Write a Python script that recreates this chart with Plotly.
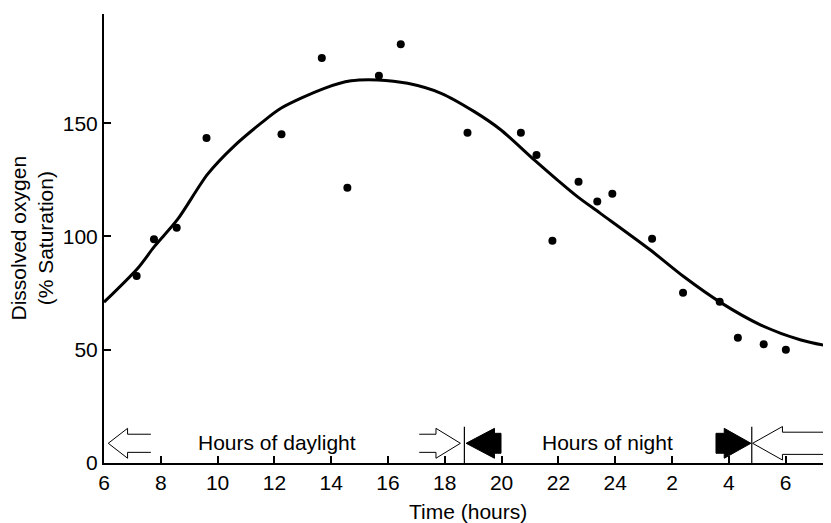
import plotly.graph_objects as go

# measured dissolved oxygen (% saturation) vs time of day (hours, continuous past midnight)
obs_hours = [7.15, 7.76, 8.56, 9.61, 12.25, 13.67, 14.57, 15.68, 16.45, 18.80, 20.68,
             21.23, 21.79, 22.71, 23.37, 23.90, 25.30, 26.39, 27.68, 28.32, 29.23, 30.01]
obs_oxygen = [82.6, 98.8, 103.9, 143.5, 145.1, 178.8, 121.5, 170.9, 184.9, 145.8, 145.8,
              136.0, 98.1, 124.1, 115.4, 118.9, 99.0, 75.2, 71.2, 55.3, 52.4, 50.0]

# fitted curve
fit_hours = [6.0, 7.19, 7.77, 8.59, 9.65, 10.59, 11.53, 12.23, 13.76, 14.70, 15.64,
             16.69, 17.87, 19.04, 19.98, 21.15, 21.97, 22.67, 23.48, 25.24, 26.41,
             27.72, 29.13, 30.54, 31.63]
fit_oxygen = [71.0, 86.0, 95.5, 107.5, 127.5, 140.0, 150.0, 156.6, 165.4, 168.7, 169.1,
              167.6, 163.2, 155.1, 147.0, 133.8, 124.9, 117.6, 110.2, 94.0, 82.3,
              70.8, 60.9, 54.3, 51.3]

tick_hours = list(range(6, 31, 2))
tick_labels = [str(h if h <= 24 else h - 24) for h in tick_hours]
y_ticks = [0, 50, 100, 150]

sunset = 18.69
sunrise = 28.81

x_min, x_max = 6, 31.6
y_max = 198.2
band_y = 8.7   # height of the day/night arrow band
font = dict(family="Arial, Liberation Sans, sans-serif", size=21, color="black")

fig = go.Figure()
fig.add_trace(go.Scatter(x=fit_hours, y=fit_oxygen, mode="lines",
                         line=dict(color="black", width=3, shape="spline", smoothing=0.8),
                         hoverinfo="skip"))
fig.add_trace(go.Scatter(x=obs_hours, y=obs_oxygen, mode="markers",
                         marker=dict(color="black", size=8)))


def arrow(tip, direction, head_len, tail_len, head_h, shaft_h, filled):
    notch = tip - direction * head_len
    tail = tip - direction * (head_len + tail_len)
    pts = [(tail, band_y + shaft_h), (notch, band_y + shaft_h), (notch, band_y + head_h),
           (tip, band_y), (notch, band_y - head_h), (notch, band_y - shaft_h),
           (tail, band_y - shaft_h)]
    path = "M " + " L ".join(f"{x},{y}" for x, y in pts)
    if filled:
        path += " Z"
    fig.add_shape(type="path", path=path, xref="x", yref="y",
                  line=dict(color="black", width=1),
                  fillcolor="black" if filled else "rgba(0,0,0,0)")


arrow(x_min + 0.15, -1, 0.68, 0.82, 6.6, 4.0, False)
arrow(sunset - 0.14, 1, 0.86, 0.59, 6.6, 4.0, False)
arrow(sunset + 0.06, -1, 1.0, 0.23, 6.6, 4.4, True)
arrow(sunrise - 0.03, 1, 0.94, 0.29, 6.6, 4.4, True)
arrow(sunrise + 0.03, -1, 1.05, 3.5, 7.4, 4.9, False)

for h in (sunset, sunrise):
    fig.add_shape(type="line", x0=h, x1=h, y0=0, y1=16, xref="x", yref="y",
                  line=dict(color="black", width=1.2))

fig.add_annotation(x=12.1, y=9.0, text="Hours of daylight", showarrow=False, font=font)
fig.add_annotation(x=23.73, y=9.0, text="Hours of night", showarrow=False, font=font)
fig.add_annotation(x=0.5, y=0, xref="paper", yref="paper", yanchor="middle", yshift=-48,
                   text="Time (hours)", showarrow=False, font=font)
fig.add_annotation(x=0, y=0.5, xref="paper", yref="paper", xanchor="center", xshift=-73,
                   text="Dissolved oxygen<br>(% Saturation)", textangle=-90,
                   showarrow=False, font=font)

fig.update_xaxes(range=[x_min, x_max], tickvals=tick_hours, ticktext=tick_labels,
                 showgrid=False, zeroline=False, showline=True, linecolor="black",
                 linewidth=2, ticks="inside", ticklen=7, tickwidth=1.5, tickcolor="black",
                 tickfont=font)
fig.update_yaxes(range=[0, y_max], tickvals=y_ticks + [198],
                 ticktext=[str(v) for v in y_ticks] + [""],
                 showgrid=False, zeroline=False, showline=True, linecolor="black",
                 linewidth=2, ticks="inside", ticklen=7, tickwidth=1.5, tickcolor="black",
                 tickfont=font)
# page body adds an 8px offset, so the figure is 8px smaller than the window
fig.update_layout(width=823, height=515, margin=dict(l=96, r=0, t=6, b=60),
                  paper_bgcolor="white", plot_bgcolor="white", showlegend=False)

fig.write_html("out.html")
